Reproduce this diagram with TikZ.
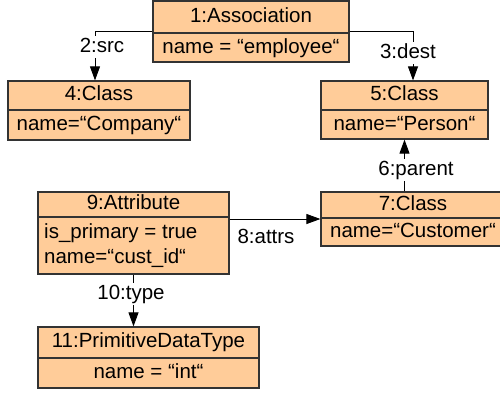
\documentclass[tikz,border=0pt]{standalone}
\usepackage{fontspec}
\setmainfont{Liberation Sans}
\usetikzlibrary{arrows.meta,fit,calc}
\definecolor{objfill}{HTML}{FFCC99}
\definecolor{objline}{HTML}{333333}
% object box: name, x1, y1, x2, y2, divider y, title, body
\newcommand{\objbox}[8]{%
  \node[objrect, fit={(#2,#3)(#4,#5)}] (#1) {};
  \draw[objline, line width=1.2pt] (#1.west |- 0,#6) -- (#1.east |- 0,#6);
  \node[txt] (#1-title) at ($(#1.north)!0.5!(#1.north |- 0,#6)$) {#7};
  \node[txt] (#1-body) at ($(#1.south)!0.5!(#1.south |- 0,#6)$) {#8};
}
\begin{document}
\begin{tikzpicture}[x=1pt, y=-1pt,
  font=\fontsize{20.5}{25}\selectfont,
  objrect/.style={draw=objline, fill=objfill, line width=1.2pt, inner sep=0pt},
  txt/.style={inner sep=0pt, text height=15pt, text depth=4pt},
  conn/.style={draw=black, line width=0.9pt, -{Triangle[length=14pt,width=10pt]}},
  lbl/.style={fill=white, inner sep=1.5pt, text height=15pt, text depth=4pt}]
\clip (0,0) rectangle (500,392);
\fill[white] (0,0) rectangle (500,392);

% objects
\objbox{n1}{153}{1}{349}{62}{33}{1:Association}{name = “employee“}
\objbox{n4}{8}{81}{190}{140}{110}{4:Class}{name=“Company“}
\objbox{n5}{321}{81}{488}{139}{110}{5:Class}{name=“Person“}
\objbox{n7}{321}{192}{505}{246}{218}{7:Class}{name=“Customer“}
\objbox{n9}{38}{192}{229}{274}{217}{9:Attribute}{}
\node[anchor=west, align=left, inner sep=0pt] (n9-attrs) at (44,245.5)
  {is\_primary = true\\name=“cust\_id“};
\objbox{n11}{38}{327}{259}{388}{358}{11:PrimitiveDataType}{name = “int“}

% links
\draw[conn] (n1.west) -| ([xshift=-4pt]n4.north);
\draw[conn] (n1.east) -| ([xshift=8.5pt]n5.north);
\draw[conn] (n5.south |- n7.north) -- (n5.south);
\draw[conn] (n9.east |- n7.west) -- (n7.west);
\draw[conn] (n9.south) -- (n11.north -| n9.south);

% link labels
\node[lbl] (l2) at (102,47) {2:src};
\node[lbl] (l3) at (408,53) {3:dest};
\node[lbl] (l6) at (416,170) {6:parent};
\node[lbl] (l8) at (266,238) {8:attrs};
\node[lbl] (l10) at (131,294) {10:type};
\end{tikzpicture}
\end{document}
